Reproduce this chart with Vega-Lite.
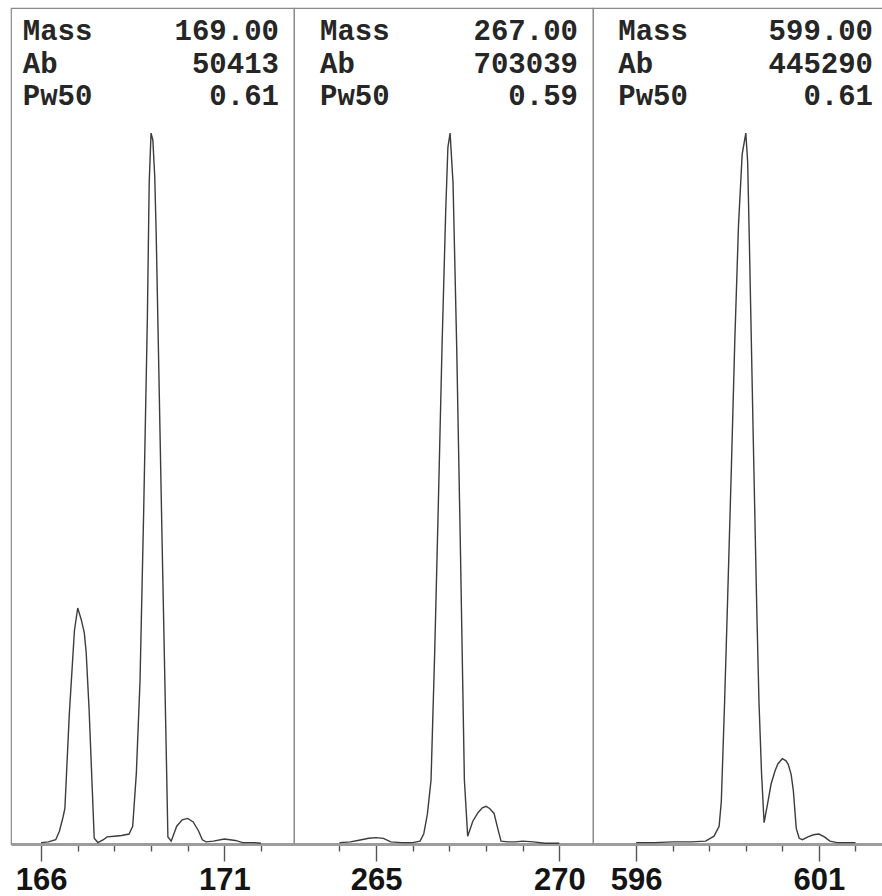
{
  "$schema": "https://vega.github.io/schema/vega-lite/v6.json",
  "background": "white",
  "padding": {"left": 10, "top": 7, "right": 0, "bottom": 0},
  "spacing": 0,
  "bounds": "flush",
  "config": {
    "view": {"stroke": "#8a8a8a", "strokeWidth": 1.2},
    "concat": {"spacing": 0},
    "axis": {
      "domainColor": "#9c9c9c",
      "domainWidth": 3,
      "tickColor": "#555555",
      "tickWidth": 1.4,
      "labelFont": "Liberation Sans",
      "labelFontSize": 31,
      "labelFontWeight": "bold",
      "labelColor": "#141414",
      "labelBaseline": "alphabetic",
      "labelPadding": 28,
      "labelFlush": false,
      "labelOverlap": false,
      "grid": false,
      "title": null
    }
  },
  "datasets": {
    "trace": [
      {"panel": 1, "mz": 166.0, "ab": 0.2},
      {"panel": 1, "mz": 166.2, "ab": 0.3},
      {"panel": 1, "mz": 166.4, "ab": 0.6},
      {"panel": 1, "mz": 166.5, "ab": 1.8},
      {"panel": 1, "mz": 166.6, "ab": 3.8},
      {"panel": 1, "mz": 166.65, "ab": 5},
      {"panel": 1, "mz": 166.77, "ab": 18.2},
      {"panel": 1, "mz": 166.91, "ab": 30},
      {"panel": 1, "mz": 167.0, "ab": 33.2},
      {"panel": 1, "mz": 167.1, "ab": 31.5},
      {"panel": 1, "mz": 167.18, "ab": 29.7},
      {"panel": 1, "mz": 167.23, "ab": 27},
      {"panel": 1, "mz": 167.31, "ab": 19},
      {"panel": 1, "mz": 167.39, "ab": 8.6},
      {"panel": 1, "mz": 167.45, "ab": 0.8},
      {"panel": 1, "mz": 167.55, "ab": 0.2},
      {"panel": 1, "mz": 167.7, "ab": 0.6},
      {"panel": 1, "mz": 167.8, "ab": 1.0},
      {"panel": 1, "mz": 168.0, "ab": 1.1},
      {"panel": 1, "mz": 168.2, "ab": 1.2},
      {"panel": 1, "mz": 168.4, "ab": 1.4},
      {"panel": 1, "mz": 168.5, "ab": 2.5},
      {"panel": 1, "mz": 168.6, "ab": 10},
      {"panel": 1, "mz": 168.7, "ab": 23},
      {"panel": 1, "mz": 168.8, "ab": 47},
      {"panel": 1, "mz": 168.9, "ab": 74},
      {"panel": 1, "mz": 168.95, "ab": 93},
      {"panel": 1, "mz": 169.0, "ab": 100},
      {"panel": 1, "mz": 169.05, "ab": 99},
      {"panel": 1, "mz": 169.1, "ab": 94},
      {"panel": 1, "mz": 169.14, "ab": 86},
      {"panel": 1, "mz": 169.2, "ab": 70},
      {"panel": 1, "mz": 169.3, "ab": 43},
      {"panel": 1, "mz": 169.4, "ab": 17},
      {"panel": 1, "mz": 169.46, "ab": 1.0},
      {"panel": 1, "mz": 169.55, "ab": 0.4},
      {"panel": 1, "mz": 169.7, "ab": 2.5},
      {"panel": 1, "mz": 169.85, "ab": 3.4},
      {"panel": 1, "mz": 170.0, "ab": 3.6},
      {"panel": 1, "mz": 170.15, "ab": 3.1},
      {"panel": 1, "mz": 170.3, "ab": 1.8},
      {"panel": 1, "mz": 170.4, "ab": 0.6},
      {"panel": 1, "mz": 170.5, "ab": 0.3},
      {"panel": 1, "mz": 170.7, "ab": 0.4},
      {"panel": 1, "mz": 171.0, "ab": 0.7},
      {"panel": 1, "mz": 171.3, "ab": 0.5},
      {"panel": 1, "mz": 171.5, "ab": 0.2},
      {"panel": 1, "mz": 171.8, "ab": 0.2},
      {"panel": 1, "mz": 172.0, "ab": 0.1},

      {"panel": 2, "mz": 264.0, "ab": 0.2},
      {"panel": 2, "mz": 264.3, "ab": 0.3},
      {"panel": 2, "mz": 264.5, "ab": 0.5},
      {"panel": 2, "mz": 264.8, "ab": 0.8},
      {"panel": 2, "mz": 265.0, "ab": 0.9},
      {"panel": 2, "mz": 265.2, "ab": 0.8},
      {"panel": 2, "mz": 265.4, "ab": 0.3},
      {"panel": 2, "mz": 265.7, "ab": 0.2},
      {"panel": 2, "mz": 266.0, "ab": 0.2},
      {"panel": 2, "mz": 266.2, "ab": 0.4},
      {"panel": 2, "mz": 266.3, "ab": 1.4},
      {"panel": 2, "mz": 266.4, "ab": 4.2},
      {"panel": 2, "mz": 266.5, "ab": 9},
      {"panel": 2, "mz": 266.6, "ab": 27},
      {"panel": 2, "mz": 266.7, "ab": 48},
      {"panel": 2, "mz": 266.8, "ab": 70},
      {"panel": 2, "mz": 266.9, "ab": 89},
      {"panel": 2, "mz": 266.96, "ab": 98},
      {"panel": 2, "mz": 267.02, "ab": 100},
      {"panel": 2, "mz": 267.1, "ab": 93},
      {"panel": 2, "mz": 267.2, "ab": 70},
      {"panel": 2, "mz": 267.3, "ab": 42},
      {"panel": 2, "mz": 267.41, "ab": 9},
      {"panel": 2, "mz": 267.5, "ab": 1.1},
      {"panel": 2, "mz": 267.64, "ab": 3.2},
      {"panel": 2, "mz": 267.78, "ab": 4.4},
      {"panel": 2, "mz": 267.9, "ab": 5.1},
      {"panel": 2, "mz": 268.0, "ab": 5.3},
      {"panel": 2, "mz": 268.1, "ab": 5.0},
      {"panel": 2, "mz": 268.22, "ab": 4.3},
      {"panel": 2, "mz": 268.32, "ab": 2.2},
      {"panel": 2, "mz": 268.41, "ab": 0.4},
      {"panel": 2, "mz": 268.6, "ab": 0.3},
      {"panel": 2, "mz": 268.8, "ab": 0.3},
      {"panel": 2, "mz": 269.0, "ab": 0.4},
      {"panel": 2, "mz": 269.3, "ab": 0.3},
      {"panel": 2, "mz": 269.6, "ab": 0.1},
      {"panel": 2, "mz": 270.0, "ab": 0.1},

      {"panel": 3, "mz": 596.0, "ab": 0.2},
      {"panel": 3, "mz": 596.5, "ab": 0.2},
      {"panel": 3, "mz": 597.0, "ab": 0.3},
      {"panel": 3, "mz": 597.5, "ab": 0.3},
      {"panel": 3, "mz": 597.9, "ab": 0.4},
      {"panel": 3, "mz": 598.13, "ab": 1.1},
      {"panel": 3, "mz": 598.27, "ab": 2.5},
      {"panel": 3, "mz": 598.33, "ab": 6},
      {"panel": 3, "mz": 598.42, "ab": 20},
      {"panel": 3, "mz": 598.5, "ab": 34},
      {"panel": 3, "mz": 598.6, "ab": 52},
      {"panel": 3, "mz": 598.7, "ab": 71},
      {"panel": 3, "mz": 598.8, "ab": 87},
      {"panel": 3, "mz": 598.9, "ab": 97},
      {"panel": 3, "mz": 599.0, "ab": 100},
      {"panel": 3, "mz": 599.05, "ab": 96},
      {"panel": 3, "mz": 599.1, "ab": 84},
      {"panel": 3, "mz": 599.2, "ab": 58},
      {"panel": 3, "mz": 599.3, "ab": 33},
      {"panel": 3, "mz": 599.36, "ab": 20},
      {"panel": 3, "mz": 599.43, "ab": 10},
      {"panel": 3, "mz": 599.5, "ab": 3.0},
      {"panel": 3, "mz": 599.6, "ab": 5.8},
      {"panel": 3, "mz": 599.69, "ab": 8.4},
      {"panel": 3, "mz": 599.8, "ab": 10.3},
      {"panel": 3, "mz": 599.88, "ab": 11.3},
      {"panel": 3, "mz": 600.0, "ab": 12.0},
      {"panel": 3, "mz": 600.1, "ab": 11.7},
      {"panel": 3, "mz": 600.16, "ab": 11.2},
      {"panel": 3, "mz": 600.24, "ab": 9.8},
      {"panel": 3, "mz": 600.3, "ab": 7.5},
      {"panel": 3, "mz": 600.38, "ab": 2.2},
      {"panel": 3, "mz": 600.46, "ab": 0.8},
      {"panel": 3, "mz": 600.55, "ab": 0.6},
      {"panel": 3, "mz": 600.7, "ab": 1.0},
      {"panel": 3, "mz": 600.85, "ab": 1.3},
      {"panel": 3, "mz": 601.0, "ab": 1.4},
      {"panel": 3, "mz": 601.15, "ab": 1.0},
      {"panel": 3, "mz": 601.3, "ab": 0.4},
      {"panel": 3, "mz": 601.5, "ab": 0.2},
      {"panel": 3, "mz": 601.8, "ab": 0.2},
      {"panel": 3, "mz": 602.0, "ab": 0.2}
    ],
    "info": [
      {"panel": 1, "key": "Mass", "val": "169.00"},
      {"panel": 1, "key": "Ab", "val": "50413"},
      {"panel": 1, "key": "Pw50", "val": "0.61"},
      {"panel": 2, "key": "Mass", "val": "267.00"},
      {"panel": 2, "key": "Ab", "val": "703039"},
      {"panel": 2, "key": "Pw50", "val": "0.59"},
      {"panel": 3, "key": "Mass", "val": "599.00"},
      {"panel": 3, "key": "Ab", "val": "445290"},
      {"panel": 3, "key": "Pw50", "val": "0.61"}
    ]
  },
  "hconcat": [
    {
      "width": 283,
      "height": 836,
      "resolve": {"scale": {"y": "independent"}},
      "layer": [
        {
          "data": {"name": "trace"},
          "transform": [{"filter": "datum.panel == 1"}],
          "mark": {"type": "line", "color": "#3c3c3c", "strokeWidth": 1.4},
          "encoding": {
            "x": {
              "field": "mz", "type": "quantitative", "title": null,
              "scale": {"domain": [165.18, 172.9], "nice": false, "zero": false},
              "axis": {
                "values": [166, 167, 168, 169, 170, 171, 172],
                "tickSize": {"condition": {"test": "datum.value == 166 || datum.value == 171", "value": 17}, "value": 7},
                "labelExpr": "datum.value == 166 || datum.value == 171 ? datum.label : ''"
              }
            },
            "y": {"field": "ab", "type": "quantitative", "scale": {"domain": [0, 117.6], "nice": false}, "axis": null}
          }
        },
        {
          "data": {"name": "info"},
          "transform": [{"filter": "datum.panel == 1"}],
          "mark": {"type": "text", "align": "left", "baseline": "middle", "font": "Liberation Mono", "fontWeight": "bold", "fontSize": 29, "color": "#262626"},
          "encoding": {
            "x": {"datum": 165.5},
            "y": {"field": "key", "type": "ordinal", "sort": ["Mass", "Ab", "Pw50"], "scale": {"type": "point", "range": [23, 88], "padding": 0}, "axis": null},
            "text": {"field": "key"}
          }
        },
        {
          "data": {"name": "info"},
          "transform": [{"filter": "datum.panel == 1"}],
          "mark": {"type": "text", "align": "right", "baseline": "middle", "font": "Liberation Mono", "fontWeight": "bold", "fontSize": 29, "color": "#262626"},
          "encoding": {
            "x": {"datum": 172.49},
            "y": {"field": "key", "type": "ordinal", "sort": ["Mass", "Ab", "Pw50"], "scale": {"type": "point", "range": [23, 88], "padding": 0}, "axis": null},
            "text": {"field": "val"}
          }
        }
      ]
    },
    {
      "width": 299,
      "height": 836,
      "resolve": {"scale": {"y": "independent"}},
      "layer": [
        {
          "data": {"name": "trace"},
          "transform": [{"filter": "datum.panel == 2"}],
          "mark": {"type": "line", "color": "#3c3c3c", "strokeWidth": 1.4},
          "encoding": {
            "x": {
              "field": "mz", "type": "quantitative", "title": null,
              "scale": {"domain": [262.76, 270.92], "nice": false, "zero": false},
              "axis": {
                "values": [264, 265, 266, 267, 268, 269, 270],
                "tickSize": {"condition": {"test": "datum.value == 265 || datum.value == 270", "value": 17}, "value": 7},
                "labelExpr": "datum.value == 265 || datum.value == 270 ? datum.label : ''"
              }
            },
            "y": {"field": "ab", "type": "quantitative", "scale": {"domain": [0, 117.6], "nice": false}, "axis": null}
          }
        },
        {
          "data": {"name": "info"},
          "transform": [{"filter": "datum.panel == 2"}],
          "mark": {"type": "text", "align": "left", "baseline": "middle", "font": "Liberation Mono", "fontWeight": "bold", "fontSize": 29, "color": "#262626"},
          "encoding": {
            "x": {"datum": 263.47},
            "y": {"field": "key", "type": "ordinal", "sort": ["Mass", "Ab", "Pw50"], "scale": {"type": "point", "range": [23, 88], "padding": 0}, "axis": null},
            "text": {"field": "key"}
          }
        },
        {
          "data": {"name": "info"},
          "transform": [{"filter": "datum.panel == 2"}],
          "mark": {"type": "text", "align": "right", "baseline": "middle", "font": "Liberation Mono", "fontWeight": "bold", "fontSize": 29, "color": "#262626"},
          "encoding": {
            "x": {"datum": 270.51},
            "y": {"field": "key", "type": "ordinal", "sort": ["Mass", "Ab", "Pw50"], "scale": {"type": "point", "range": [23, 88], "padding": 0}, "axis": null},
            "text": {"field": "val"}
          }
        }
      ]
    },
    {
      "width": 291,
      "height": 836,
      "resolve": {"scale": {"y": "independent"}},
      "layer": [
        {
          "data": {"name": "trace"},
          "transform": [{"filter": "datum.panel == 3"}],
          "mark": {"type": "line", "color": "#3c3c3c", "strokeWidth": 1.4},
          "encoding": {
            "x": {
              "field": "mz", "type": "quantitative", "title": null,
              "scale": {"domain": [594.82, 602.78], "nice": false, "zero": false},
              "axis": {
                "values": [596, 597, 598, 599, 600, 601, 602],
                "tickSize": {"condition": {"test": "datum.value == 596 || datum.value == 601", "value": 17}, "value": 7},
                "labelExpr": "datum.value == 596 || datum.value == 601 ? datum.label : ''"
              }
            },
            "y": {"field": "ab", "type": "quantitative", "scale": {"domain": [0, 117.6], "nice": false}, "axis": null}
          }
        },
        {
          "data": {"name": "info"},
          "transform": [{"filter": "datum.panel == 3"}],
          "mark": {"type": "text", "align": "left", "baseline": "middle", "font": "Liberation Mono", "fontWeight": "bold", "fontSize": 29, "color": "#262626"},
          "encoding": {
            "x": {"datum": 595.51},
            "y": {"field": "key", "type": "ordinal", "sort": ["Mass", "Ab", "Pw50"], "scale": {"type": "point", "range": [23, 88], "padding": 0}, "axis": null},
            "text": {"field": "key"}
          }
        },
        {
          "data": {"name": "info"},
          "transform": [{"filter": "datum.panel == 3"}],
          "mark": {"type": "text", "align": "right", "baseline": "middle", "font": "Liberation Mono", "fontWeight": "bold", "fontSize": 29, "color": "#262626"},
          "encoding": {
            "x": {"datum": 602.48},
            "y": {"field": "key", "type": "ordinal", "sort": ["Mass", "Ab", "Pw50"], "scale": {"type": "point", "range": [23, 88], "padding": 0}, "axis": null},
            "text": {"field": "val"}
          }
        }
      ]
    }
  ]
}
